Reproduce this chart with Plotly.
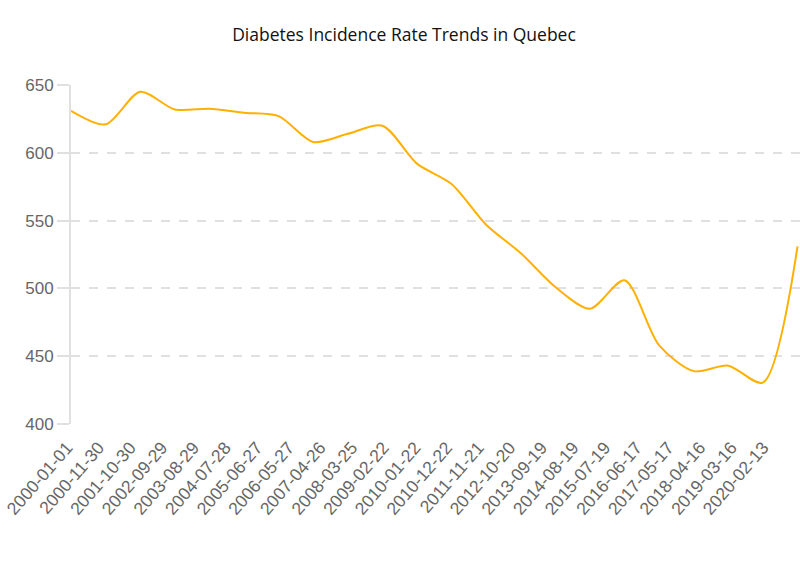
import plotly.graph_objects as go

dates = [f"{y}-01-01" for y in range(2000, 2022)]
rates = [631, 621, 645, 632, 632.5, 629.5, 627, 608, 614, 620, 592, 577,
         547, 526, 501, 485, 506, 458, 439, 443, 430.5, 531]

tick_labels = ["2000-01-01", "2000-11-30", "2001-10-30", "2002-09-29", "2003-08-29",
               "2004-07-28", "2005-06-27", "2006-05-27", "2007-04-26", "2008-03-25",
               "2009-02-22", "2010-01-22", "2010-12-22", "2011-11-21", "2012-10-20",
               "2013-09-19", "2014-08-19", "2015-07-19", "2016-06-17", "2017-05-17",
               "2018-04-16", "2019-03-16", "2020-02-13"]
y_ticks = [400, 450, 500, 550, 600, 650]

fig = go.Figure()
fig.add_trace(go.Scatter(
    x=dates, y=rates, mode="lines",
    line=dict(color="#FFB000", width=2, shape="spline", smoothing=0.8),
    hoverinfo="x+y", showlegend=False,
))

fig.update_layout(
    width=800, height=572,
    paper_bgcolor="white", plot_bgcolor="white",
    margin=dict(l=71, r=0, t=85, b=148),
    title=dict(text="Diabetes Incidence Rate Trends in Quebec", x=0.505, xanchor="center",
               y=0.939, yref="container", yanchor="middle",
               font=dict(family="Open Sans", size=17.5, color="#111111")),
    xaxis=dict(type="date", range=[dates[0], "2021-01-27"], automargin=False,
               tickmode="array", tickvals=tick_labels, ticktext=tick_labels,
               tickangle=-49, showgrid=False, showline=False, zeroline=False,
               ticks="", ticklabeloverflow="allow", ticklabelstandoff=9,
               ticklabelshift=-4,
               tickfont=dict(family="Liberation Sans, Arial", size=17.5, color="#666666")),
    yaxis=dict(range=[400, 650], tickmode="array", tickvals=y_ticks, automargin=False,
               showgrid=True, gridcolor="#e0e0e0", griddash="dash", gridwidth=1.5,
               showline=True, linecolor="#e0e0e0", linewidth=2,
               ticks="outside", ticklen=12, tickcolor="#e0e0e0", tickwidth=1.5,
               zeroline=False,
               tickfont=dict(family="Liberation Sans, Arial", size=17, color="#666666")),
)

fig.write_html(
    "out.html",
    config={"displayModeBar": False},
    post_script="document.body.style.margin='0';document.body.style.overflow='hidden';",
)
